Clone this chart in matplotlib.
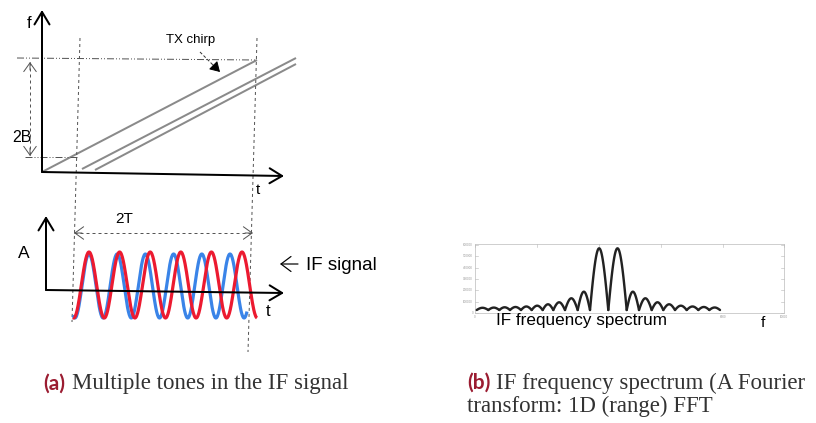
import numpy as np
import matplotlib
matplotlib.use("Agg")
import matplotlib.pyplot as plt

plt.rcParams['font.family'] = ['Liberation Sans', 'DejaVu Sans']

# canvas is laid out in pixel units (x right, y down)
W, H = 816, 423

# --- panel (a), top: chirps ---
f_origin = (42, 172)
f_axis_top = (42, 10)
t_axis_end = (284, 176)
chirp_starts = [(42, 172), (82, 169), (95, 170)]   # TX, RX1, RX2
chirp_ends = [(257, 60), (296, 58), (296, 64)]
vdash_top = [(80, 38), (257, 38)]
vdash_bottom = [(72, 322), (248, 352)]
dashdot_hi = ([17, 257], [58, 60])
dashdot_lo = ([25, 78], [157, 157])
span_2b = (30, 62, 156)     # x, y top, y bottom

# --- panel (a), bottom: IF tones ---
a_origin = (46, 290)
a_axis_top = (46, 216)
a_t_end = (284, 293)
span_2t = (74, 253, 233)    # x left, x right, y
# tone: colour, x start, x end, period (px), peak position, centre, amplitude
if_tones = [
    ('#3a84e8', 73, 247, 28.2, 89, 286, 32),
    ('#ec1a30', 73, 257, 30.6, 89, 285, 33),
]

# --- panel (b): spectrum lobes (zero crossings and peak heights, px) ---
lobe_edges = [476.7, 488.3, 499.3, 510, 521, 531.7, 542.7, 553.3, 565, 577.7,
              590, 608.3, 626.7, 639, 651.7, 663.3, 675, 686.7, 698.3, 709.3, 720]
lobe_heights = [2.2, 2.4, 2.7, 3.0, 3.5, 4.3, 5.7, 7.7, 11.7, 18.3,
                61.7, 61.7,
                18.3, 11.7, 7.7, 5.7, 4.3, 3.5, 3.0, 2.5]
spec_base = 310
spec_box = (475, 784, 244, 313)   # left, right, top, bottom
spec_yticks = [245, 256, 268, 279, 290, 302, 313]
spec_ytick_labels = ['600000', '500000', '400000', '300000', '200000', '100000', '0']
spec_xticks = [475, 537, 599, 661, 723, 784]
spec_xtick_labels = ['0', '', '', '', '8000', '10000']

fig = plt.figure(figsize=(W / 100, H / 100), dpi=100)
ax = fig.add_axes([0, 0, 1, 1])
ax.set_xlim(0, W)
ax.set_ylim(H, 0)
ax.axis('off')

K = 0.72  # px -> pt

def arrow(p0, p1, lw=2.0, color='black', style='->', hl=0.45, hw=0.27, ms=20):
    ax.annotate('', xy=p1, xytext=p0,
                arrowprops=dict(arrowstyle=f'{style},head_length={hl},head_width={hw}',
                                lw=lw * K, color=color, mutation_scale=ms,
                                shrinkA=0, shrinkB=0))

# axes of the chirp plot
arrow(f_origin, f_axis_top)
arrow(f_origin, t_axis_end)
ax.text(29, 24, 'f', fontsize=12, ha='center', va='center')
ax.text(258, 190, 't', fontsize=11, ha='center', va='center')

# chirps
for (x0, y0), (x1, y1) in zip(chirp_starts, chirp_ends):
    ax.plot([x0, x1], [y0, y1], color='#8a8a8a', lw=2.0 * K, solid_capstyle='butt')

# guide lines
for (x0, y0), (x1, y1) in zip(vdash_top, vdash_bottom):
    ax.plot([x0, x1], [y0, y1], color='#555555', lw=1.0 * K, ls=(0, (3, 3)))
ax.plot(*dashdot_hi, color='#555555', lw=1.0 * K, ls=(0, (7, 2, 1, 2, 1, 2)))
ax.plot(*dashdot_lo, color='#555555', lw=1.0 * K, ls=(0, (7, 2, 1, 2, 1, 2)))

# 2B span
bx, by0, by1 = span_2b
ax.plot([bx, bx], [by0, by1], color='#555555', lw=1.0 * K, ls=(0, (3, 3)))
arrow((bx, by0 + 8), (bx, by0), lw=1.0, color='#555555', hl=0.35, hw=0.25, ms=18)
arrow((bx, by1 - 8), (bx, by1), lw=1.0, color='#555555', hl=0.35, hw=0.25, ms=18)
ax.text(22, 137, '2B', fontsize=11.5, ha='center', va='center')

# TX chirp label
ax.text(191, 40, 'TX chirp', fontsize=9.5, ha='center', va='center')
ax.plot([200, 214], [52, 66], color='#333333', lw=1.0 * K, ls=(0, (3, 2)))
arrow((213, 65), (220, 72), lw=1.0, style='-|>', hl=0.5, hw=0.3, ms=12)

# IF signal axes
arrow(a_origin, a_axis_top)
arrow(a_origin, a_t_end)
ax.text(24, 254, 'A', fontsize=12.5, ha='center', va='center')
ax.text(268, 312, 't', fontsize=12, ha='center', va='center')

# 2T span
tx0, tx1, ty = span_2t
ax.plot([tx0, tx1], [ty, ty], color='#555555', lw=1.0 * K, ls=(0, (3, 3)))
arrow((tx0 + 8, ty), (tx0, ty), lw=1.0, color='#555555', hl=0.35, hw=0.25, ms=18)
arrow((tx1 - 8, ty), (tx1, ty), lw=1.0, color='#555555', hl=0.35, hw=0.25, ms=18)
ax.text(124, 219, '2T', fontsize=11, ha='center', va='center')

# tones
for col, xa, xb, per, pk, cy, amp in if_tones:
    xs = np.linspace(xa, xb, 400)
    ys = cy - amp * np.cos(2 * np.pi * (xs - pk) / per)
    ax.plot(xs, ys, color=col, lw=3.2 * K, solid_capstyle='butt')

arrow((298, 264), (280, 264), lw=1.2, hl=0.4, hw=0.3, ms=18)
ax.text(306, 265, 'IF signal', fontsize=13.5, ha='left', va='center')

# spectrum frame
l, r, t, b = spec_box
ax.plot([l, r, r, l, l], [b, b, t, t, b], color='#cfcfcf', lw=1.0 * K)
for yt, lab in zip(spec_yticks, spec_ytick_labels):
    ax.plot([l, l + 3], [yt, yt], color='#bbbbbb', lw=0.6 * K)
    ax.plot([r - 3, r], [yt, yt], color='#bbbbbb', lw=0.6 * K)
    ax.text(l - 2, yt, lab, fontsize=2.2, color='#999999', ha='right', va='center')
for xt, lab in zip(spec_xticks, spec_xtick_labels):
    ax.plot([xt, xt], [t, t + 3], color='#bbbbbb', lw=0.6 * K)
    if lab:
        ax.text(xt, b + 1.5, lab, fontsize=2.2, color='#999999', ha='center', va='top')

# spectrum lobes
for a, bb, h in zip(lobe_edges[:-1], lobe_edges[1:], lobe_heights):
    xs = np.linspace(a, bb, 40)
    ys = spec_base - h * np.sin(np.pi * (xs - a) / (bb - a))
    ax.plot(xs, ys, color='#222222', lw=2.4 * K, solid_capstyle='round')

ax.text(582, 321, 'IF frequency spectrum', fontsize=12.3, ha='center', va='center')
ax.text(763, 323, 'f', fontsize=11, ha='center', va='center')

# captions
cap_col = '#333333'
red_lbl = '#9b1c31'
ax.text(43, 384, '(a)', fontsize=15, fontweight='bold', color=red_lbl,
        family='Lato', ha='left', va='center')
ax.text(72, 384, 'Multiple tones in the IF signal', fontsize=16.5, color=cap_col,
        family='Liberation Serif', ha='left', va='center')
ax.text(467, 383, '(b)', fontsize=15, fontweight='bold', color=red_lbl,
        family='Lato', ha='left', va='center')
ax.text(496, 383, 'IF frequency spectrum (A Fourier', fontsize=16.5, color=cap_col,
        family='Liberation Serif', ha='left', va='center')
ax.text(467, 406, 'transform: 1D (range) FFT', fontsize=16.5, color=cap_col,
        family='Liberation Serif', ha='left', va='center')

fig.savefig('out.png', dpi=100, facecolor='white')
